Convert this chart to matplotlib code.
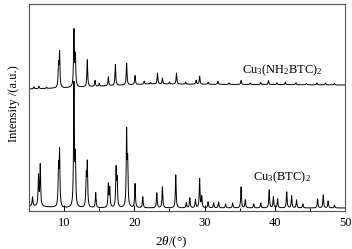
import matplotlib.pyplot as plt
import numpy as np

plt.rcParams['font.family'] = ['Liberation Serif', 'DejaVu Serif']
plt.rcParams['mathtext.fontset'] = 'custom'
plt.rcParams['mathtext.rm'] = 'Liberation Serif'
plt.rcParams['mathtext.it'] = 'Liberation Serif:italic'

# peak positions (2theta, deg) and heights (a.u.)
btc_pos = [5.5, 6.35, 6.6, 9.2, 9.35, 11.4, 11.6, 13.15, 13.3, 14.5, 16.3, 16.5,
           17.4, 17.55, 18.9, 19.05, 20.1, 21.2, 23.2, 24.0, 25.9, 27.4, 27.9,
           28.7, 29.3, 29.6, 30.5, 31.3, 32.0, 33.0, 34.0, 35.2, 35.8, 37.0,
           38.0, 39.2, 39.8, 40.4, 41.7, 42.4, 43.1, 44.0, 46.1, 46.9, 47.6, 48.5]
btc_h = [9, 30, 41, 38, 54, 122, 47, 30, 43, 15, 23, 19,
         38, 26, 74, 42, 24, 11, 15, 21, 33, 5, 10,
         8, 29, 11, 6, 5, 6, 4, 5, 21, 8, 4,
         5, 18, 11, 9, 16, 12, 8, 4, 9, 13, 7, 3]

nh2_pos = [5.7, 6.4, 7.5, 9.2, 9.35, 11.4, 11.6, 13.3, 14.4, 15.0, 16.3, 17.3,
           18.9, 20.1, 21.4, 22.3, 23.3, 24.0, 25.0, 26.0, 27.3, 28.8, 29.3,
           30.5, 31.9, 33.5, 35.2, 36.5, 38.0, 39.1, 40.3, 41.5, 43.0, 44.5,
           46.0, 47.2, 48.5]
nh2_h = [2, 2.5, 1, 22, 34, 56, 30, 27, 6, 3, 9, 21,
         22, 9, 3, 1.5, 11, 6, 2, 11, 2, 4, 8,
         2, 3, 1.5, 4, 1.5, 2, 4, 2, 2.5, 2, 1.5,
         2, 2, 1.5]

# baseline anchor points (2theta, a.u.)
base_x = [5, 10, 22, 50]
btc_base = [5, 3, 3, 3]
nh2_base = [122, 123, 127, 126]

two_theta = np.arange(5, 50.001, 0.01)


def pattern(pos, h, bx, by, w=0.065):
    y = np.interp(two_theta, bx, by)
    for p, a in zip(pos, h):
        y = y + a / (1 + ((two_theta - p) / w) ** 2)
    return y


fig = plt.figure(figsize=(3.52, 2.49), dpi=100)
ax = fig.add_axes([29 / 352, 38 / 249, 316 / 352, 207 / 249])

ax.plot(two_theta, pattern(btc_pos, btc_h, base_x, btc_base), color='black', lw=0.7)
ax.plot(two_theta, pattern(nh2_pos, nh2_h, base_x, nh2_base), color='black', lw=0.7)

ax.text(35.3, 138, r'Cu$_3$(NH$_2$BTC)$_2$', fontsize=9)
ax.text(36.9, 31, r'Cu$_3$(BTC)$_2$', fontsize=9)

ax.set_xlim(5, 50)
ax.set_ylim(0, 207)
ax.set_xticks([10, 20, 30, 40, 50])
ax.set_xticks([15, 25, 35, 45], minor=True)
ax.set_yticks([])
ax.tick_params(axis='x', direction='in', length=4, width=0.7, labelsize=9, pad=4)
ax.tick_params(axis='x', which='minor', direction='in', length=2.5, width=0.7)
for s in ax.spines.values():
    s.set_color('#555555')
    s.set_linewidth(0.8)

ax.set_xlabel(r'2$\it{\theta}$/(°)', fontsize=9.5)
ax.xaxis.set_label_coords(0.45, -0.115)
ax.set_ylabel('Intensity /(a.u.)', fontsize=9)
ax.yaxis.set_label_coords(-0.03, 0.52)

fig.savefig('out.png', dpi=100)
